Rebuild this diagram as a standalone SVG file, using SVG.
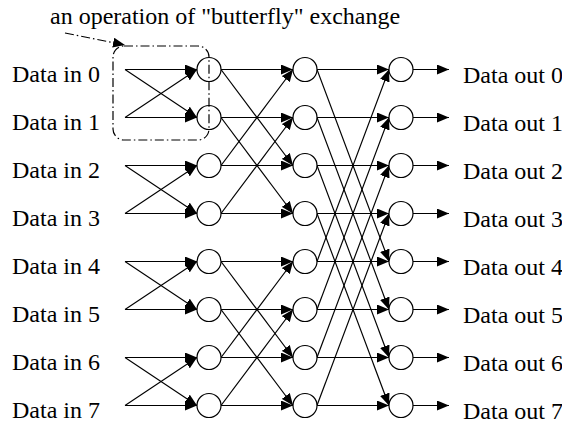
<svg xmlns="http://www.w3.org/2000/svg" width="562" height="424" viewBox="0 0 562 424">
<style>
text{font-family:"Liberation Serif","Times New Roman",serif;font-size:24px;fill:#000}
.c{fill:#fff;stroke:#000;stroke-width:1.2}
.e{fill:none;stroke:#000;stroke-width:1.2;marker-end:url(#ah)}
.dd{fill:none;stroke:#000;stroke-width:1.2;stroke-dasharray:9 3 1.5 3}
</style>
<defs>
<marker id="ah" markerUnits="userSpaceOnUse" markerWidth="12" markerHeight="10" refX="12" refY="5" orient="auto">
<path d="M0,0 L12,5 L0,10 z" fill="#000"/>
</marker>
<marker id="ah2" markerUnits="userSpaceOnUse" markerWidth="12" markerHeight="10" refX="12" refY="5" orient="auto">
<path d="M0,0 L12,5 L0,10 z" fill="#000"/>
</marker>
</defs>
<rect fill="#fff" width="562" height="424"/>
<g id="connectors">
<path class="e" d="M125 69.5H197"/><path class="e" d="M125 69.5L197 117.5"/>
<path class="e" d="M125 117.5H197"/><path class="e" d="M125 117.5L197 69.5"/>
<path class="e" d="M125 165.5H197"/><path class="e" d="M125 165.5L197 213.5"/>
<path class="e" d="M125 213.5H197"/><path class="e" d="M125 213.5L197 165.5"/>
<path class="e" d="M125 261.5H197"/><path class="e" d="M125 261.5L197 309.5"/>
<path class="e" d="M125 309.5H197"/><path class="e" d="M125 309.5L197 261.5"/>
<path class="e" d="M125 357.5H197"/><path class="e" d="M125 357.5L197 405.5"/>
<path class="e" d="M125 405.5H197"/><path class="e" d="M125 405.5L197 357.5"/>
<path class="e" d="M221 69.5H293"/><path class="e" d="M221 69.5L293 165.5"/>
<path class="e" d="M221 117.5H293"/><path class="e" d="M221 117.5L293 213.5"/>
<path class="e" d="M221 165.5H293"/><path class="e" d="M221 165.5L293 69.5"/>
<path class="e" d="M221 213.5H293"/><path class="e" d="M221 213.5L293 117.5"/>
<path class="e" d="M221 261.5H293"/><path class="e" d="M221 261.5L293 357.5"/>
<path class="e" d="M221 309.5H293"/><path class="e" d="M221 309.5L293 405.5"/>
<path class="e" d="M221 357.5H293"/><path class="e" d="M221 357.5L293 261.5"/>
<path class="e" d="M221 405.5H293"/><path class="e" d="M221 405.5L293 309.5"/>
<path class="e" d="M317 69.5H389"/><path class="e" d="M317 69.5L389 261.5"/>
<path class="e" d="M317 117.5H389"/><path class="e" d="M317 117.5L389 309.5"/>
<path class="e" d="M317 165.5H389"/><path class="e" d="M317 165.5L389 357.5"/>
<path class="e" d="M317 213.5H389"/><path class="e" d="M317 213.5L389 405.5"/>
<path class="e" d="M317 261.5H389"/><path class="e" d="M317 261.5L389 69.5"/>
<path class="e" d="M317 309.5H389"/><path class="e" d="M317 309.5L389 117.5"/>
<path class="e" d="M317 357.5H389"/><path class="e" d="M317 357.5L389 165.5"/>
<path class="e" d="M317 405.5H389"/><path class="e" d="M317 405.5L389 213.5"/>
<path class="e" d="M413 69.5H449"/>
<path class="e" d="M413 117.5H449"/>
<path class="e" d="M413 165.5H449"/>
<path class="e" d="M413 213.5H449"/>
<path class="e" d="M413 261.5H449"/>
<path class="e" d="M413 309.5H449"/>
<path class="e" d="M413 357.5H449"/>
<path class="e" d="M413 405.5H449"/>
</g>
<g id="inputs">
<text x="12" y="81.5">Data in 0</text>
<text x="12" y="129.5">Data in 1</text>
<text x="12" y="177.5">Data in 2</text>
<text x="12" y="225.5">Data in 3</text>
<text x="12" y="273.5">Data in 4</text>
<text x="12" y="321.5">Data in 5</text>
<text x="12" y="369.5">Data in 6</text>
<text x="12" y="417.5">Data in 7</text>
</g>
<g id="stage1">
<circle id="n1_0" class="c" cx="209" cy="69.5" r="12"/>
<circle id="n1_1" class="c" cx="209" cy="117.5" r="12"/>
<circle id="n1_2" class="c" cx="209" cy="165.5" r="12"/>
<circle id="n1_3" class="c" cx="209" cy="213.5" r="12"/>
<circle id="n1_4" class="c" cx="209" cy="261.5" r="12"/>
<circle id="n1_5" class="c" cx="209" cy="309.5" r="12"/>
<circle id="n1_6" class="c" cx="209" cy="357.5" r="12"/>
<circle id="n1_7" class="c" cx="209" cy="405.5" r="12"/>
</g>
<g id="stage2">
<circle id="n2_0" class="c" cx="305" cy="69.5" r="12"/>
<circle id="n2_1" class="c" cx="305" cy="117.5" r="12"/>
<circle id="n2_2" class="c" cx="305" cy="165.5" r="12"/>
<circle id="n2_3" class="c" cx="305" cy="213.5" r="12"/>
<circle id="n2_4" class="c" cx="305" cy="261.5" r="12"/>
<circle id="n2_5" class="c" cx="305" cy="309.5" r="12"/>
<circle id="n2_6" class="c" cx="305" cy="357.5" r="12"/>
<circle id="n2_7" class="c" cx="305" cy="405.5" r="12"/>
</g>
<g id="stage3">
<circle id="n3_0" class="c" cx="401" cy="69.5" r="12"/>
<circle id="n3_1" class="c" cx="401" cy="117.5" r="12"/>
<circle id="n3_2" class="c" cx="401" cy="165.5" r="12"/>
<circle id="n3_3" class="c" cx="401" cy="213.5" r="12"/>
<circle id="n3_4" class="c" cx="401" cy="261.5" r="12"/>
<circle id="n3_5" class="c" cx="401" cy="309.5" r="12"/>
<circle id="n3_6" class="c" cx="401" cy="357.5" r="12"/>
<circle id="n3_7" class="c" cx="401" cy="405.5" r="12"/>
</g>
<g id="outputs">
<text x="463" y="82.5">Data out 0</text>
<text x="463" y="130.5">Data out 1</text>
<text x="463" y="178.5">Data out 2</text>
<text x="463" y="226.5">Data out 3</text>
<text x="463" y="274.5">Data out 4</text>
<text x="463" y="322.5">Data out 5</text>
<text x="463" y="370.5">Data out 6</text>
<text x="463" y="418.5">Data out 7</text>
</g>
<g id="butterfly-note">
<rect class="dd" x="113" y="46" width="96" height="94" rx="11"/>
<path class="dd" d="M65 33L125 45" marker-end="url(#ah2)"/>
<text x="50" y="24">an operation of "butterfly" exchange</text>
</g>
</svg>
